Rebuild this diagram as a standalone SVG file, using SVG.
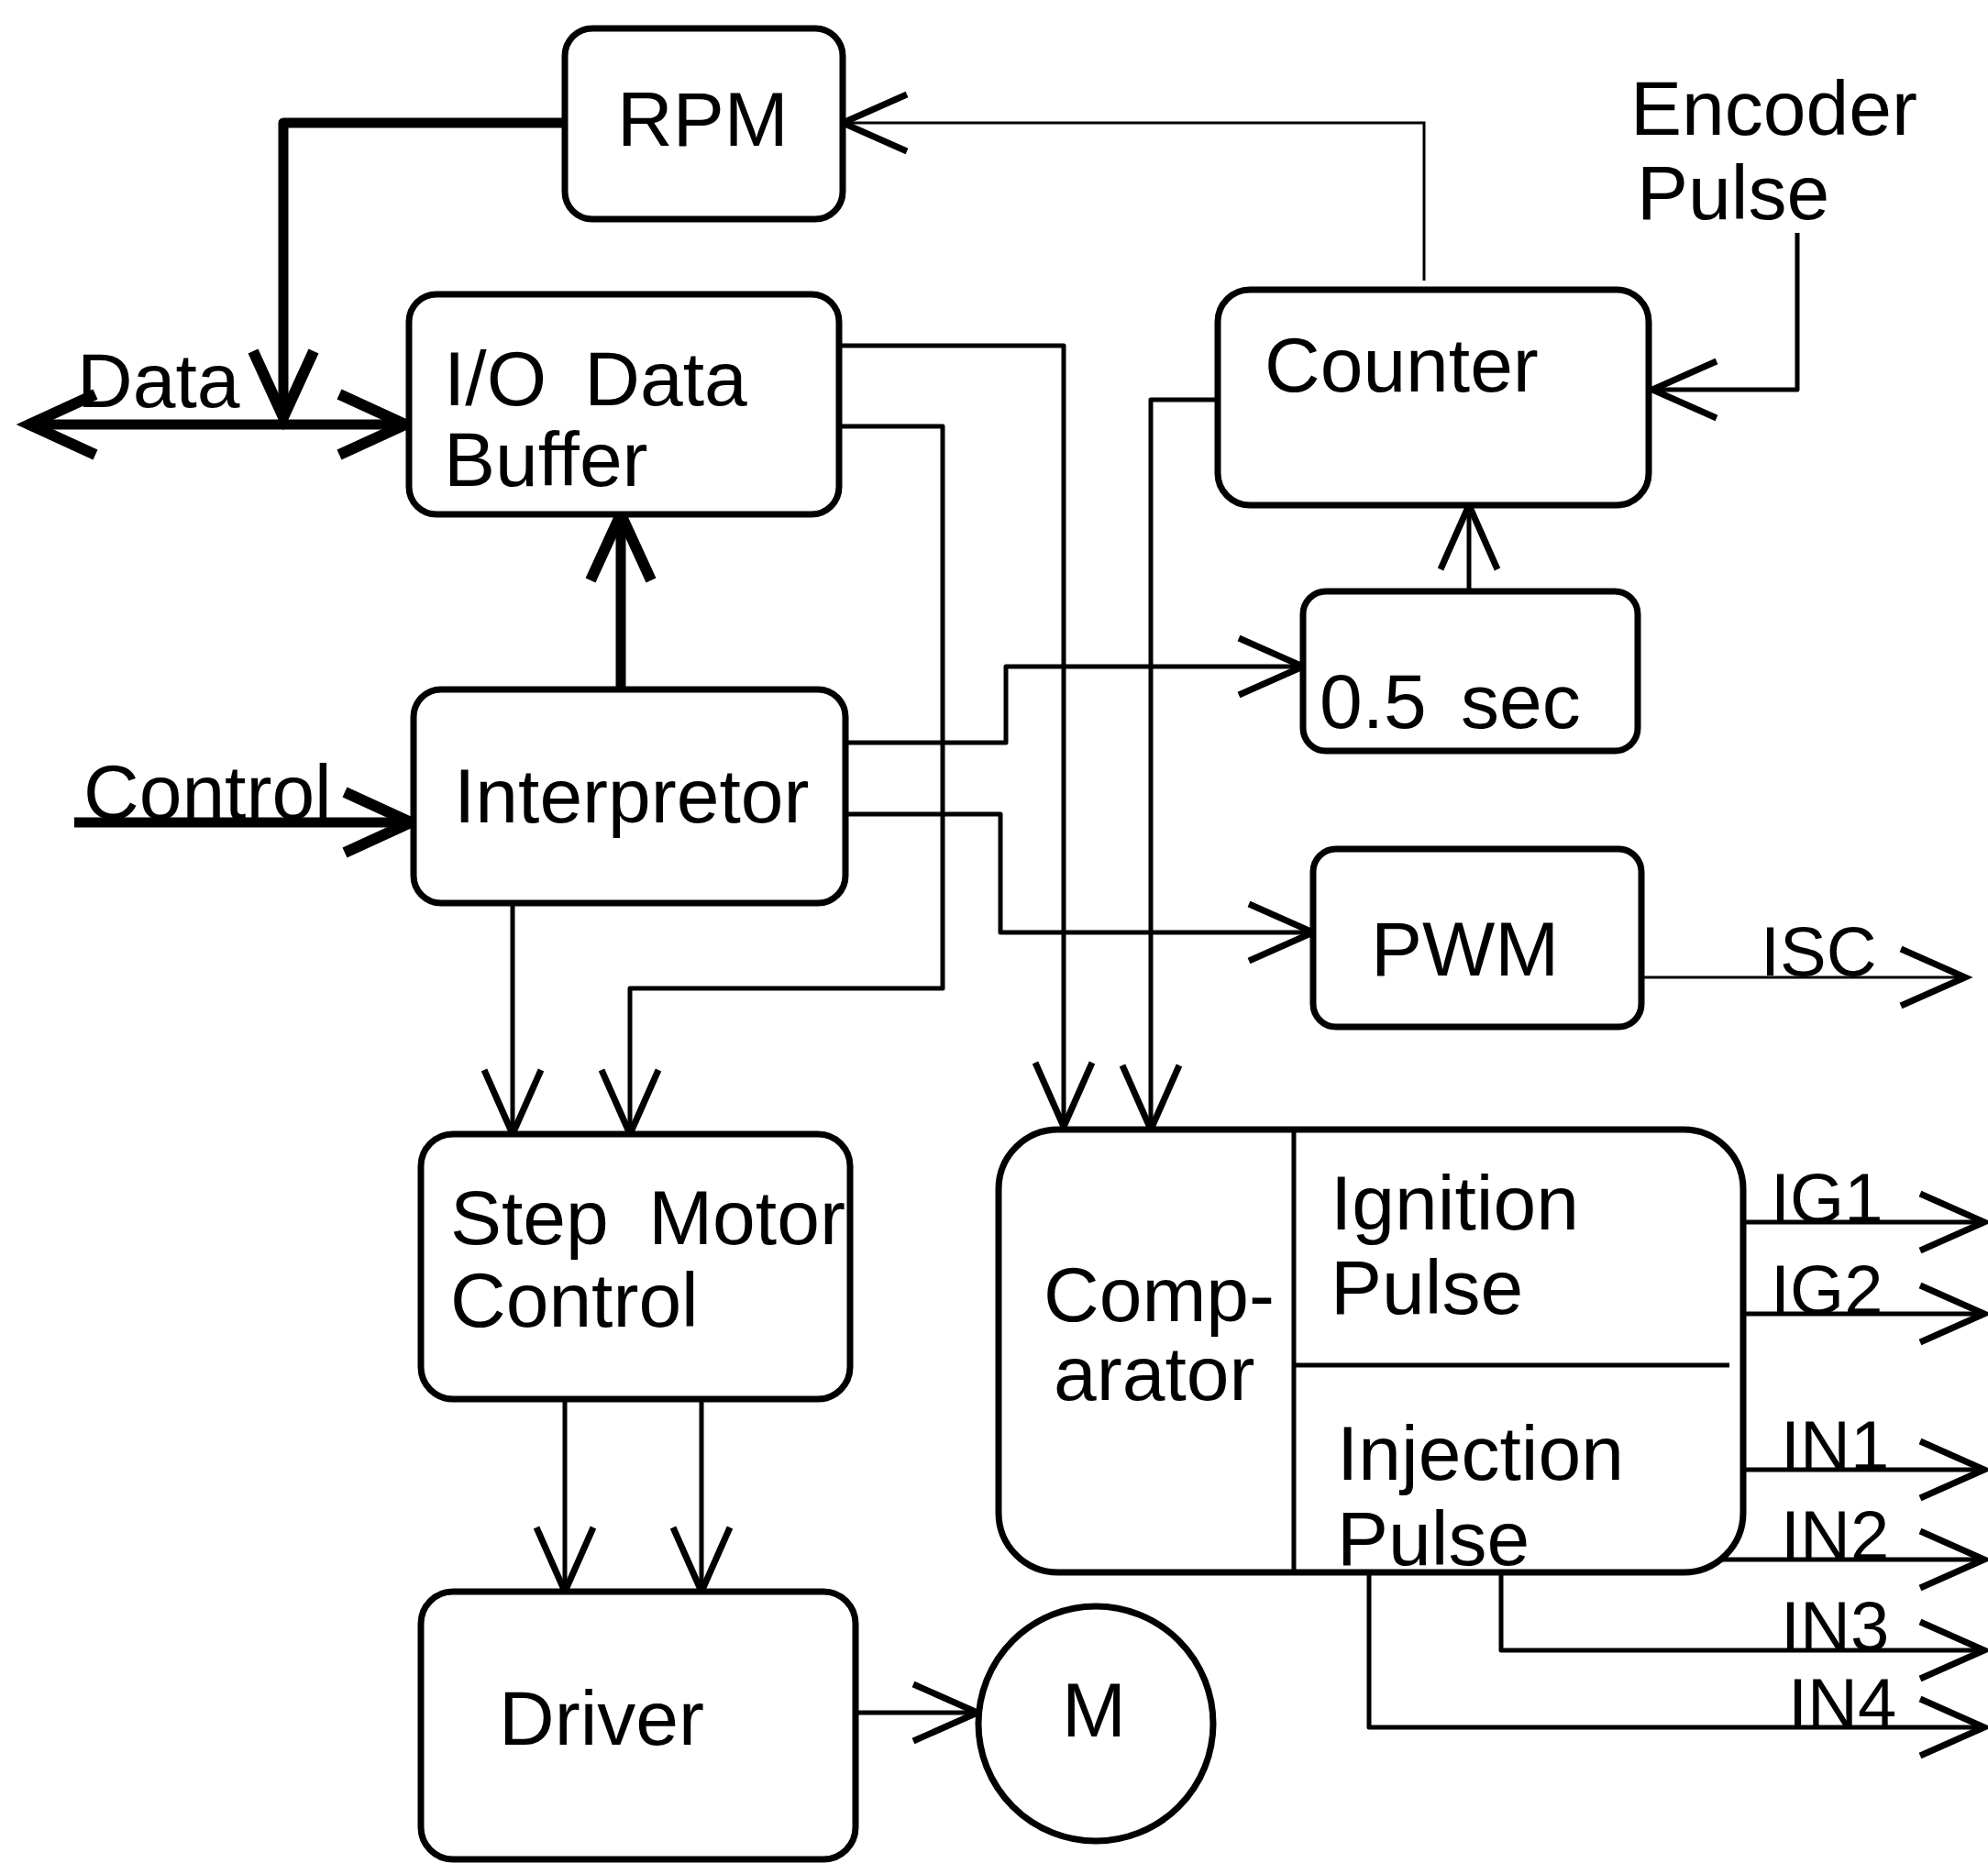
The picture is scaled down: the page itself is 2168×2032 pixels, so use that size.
<svg xmlns="http://www.w3.org/2000/svg" width="2168" height="2032" viewBox="0 0 2168 2032">
<style>
.box{fill:#fff;stroke:#000;stroke-width:7}
.t{font-family:"Liberation Sans",Arial,sans-serif;font-size:84px;fill:#000}
.s{font-family:"Liberation Sans",Arial,sans-serif;font-size:76px;fill:#000}
.c{fill:none;stroke:#000;stroke-width:5;stroke-linejoin:round}
.k{fill:none;stroke:#000;stroke-width:11;stroke-linejoin:round}
.n{fill:none;stroke:#000;stroke-width:3}
</style>
<defs>
<marker id="v" markerUnits="userSpaceOnUse" viewBox="-80 -40 90 80" refX="0" refY="0" markerWidth="90" markerHeight="80" orient="auto" overflow="visible">
<path d="M-70,-31 L0,0 L-70,31" fill="none" stroke="#000" stroke-width="7"/>
</marker>
<marker id="vb" markerUnits="userSpaceOnUse" viewBox="-80 -40 90 80" refX="0" refY="0" markerWidth="90" markerHeight="80" orient="auto-start-reverse" overflow="visible">
<path d="M-72,-33 L0,0 L-72,33" fill="none" stroke="#000" stroke-width="12"/>
</marker>
</defs>
<rect width="2168" height="2032" fill="#fff"/>
<g id="connectors">
<path class="k" d="M616,134 H309 V455" marker-end="url(#vb)"/>
<path class="k" d="M32,463 H442" marker-start="url(#vb)" marker-end="url(#vb)"/>
<path class="n" d="M1553,306 V134 H919" marker-end="url(#v)"/>
<path class="c" d="M1960,254 V425 H1802" marker-end="url(#v)"/>
<path class="c" d="M1602,645 V551" marker-end="url(#v)"/>
<path class="k" d="M677,752 V561" marker-end="url(#vb)"/>
<path class="k" d="M81,897 H448" marker-end="url(#vb)"/>
<path class="c" d="M922,810 H1097 V727 H1421" marker-end="url(#v)"/>
<path class="c" d="M922,888 H1091 V1017 H1432" marker-end="url(#v)"/>
<path class="n" d="M1790,1066 H2143" marker-end="url(#v)"/>
<path class="c" d="M915,377 H1160 V1229" marker-end="url(#v)"/>
<path class="c" d="M915,465 H1028 V1078 H687 V1237" marker-end="url(#v)"/>
<path class="c" d="M1328,436 H1255 V1232" marker-end="url(#v)"/>
<path class="c" d="M559,985 V1237" marker-end="url(#v)"/>
<path class="c" d="M616,1526 V1736" marker-end="url(#v)"/>
<path class="c" d="M765,1526 V1736" marker-end="url(#v)"/>
<path class="c" d="M933,1868 H1066" marker-end="url(#v)"/>
<path class="c" d="M1901,1333 H2164" marker-end="url(#v)"/>
<path class="c" d="M1901,1433 H2164" marker-end="url(#v)"/>
<path class="c" d="M1901,1603 H2164" marker-end="url(#v)"/>
<path class="c" d="M1850,1701 H2164" marker-end="url(#v)"/>
<path class="c" d="M1637,1715 V1800 H2164" marker-end="url(#v)"/>
<path class="c" d="M1493,1715 V1884 H2164" marker-end="url(#v)"/>
</g>
<g id="rpm"><rect class="box" x="616" y="31" width="303" height="208" rx="30"/><text class="t" x="673" y="159">RPM</text></g>
<g id="io-buffer"><rect class="box" x="446" y="321" width="469" height="240" rx="30"/><text class="t" x="484" y="442" word-spacing="18">I/O Data</text><text class="t" x="484" y="530">Buffer</text></g>
<g id="counter"><rect class="box" x="1328" y="316" width="470" height="235" rx="35"/><text class="t" x="1379" y="427">Counter</text></g>
<g id="encoder-label"><text class="t" x="1778" y="147">Encoder</text><text class="t" x="1785" y="239">Pulse</text></g>
<g id="data-label"><text class="t" x="84" y="444">Data</text></g>
<g id="control-label"><text class="t" x="91" y="893">Control</text></g>
<g id="timer"><rect class="box" x="1421" y="645" width="365" height="174" rx="25"/><text class="t" x="1439" y="794" word-spacing="14">0.5 sec</text></g>
<g id="interpretor"><rect class="box" x="451" y="752" width="471" height="233" rx="30"/><text class="t" x="495" y="897">Interpretor</text></g>
<g id="pwm"><rect class="box" x="1432" y="926" width="358" height="194" rx="25"/><text class="t" x="1495" y="1064">PWM</text></g>
<g id="isc-label"><text class="s" x="1920" y="1064">ISC</text></g>
<g id="step-motor"><rect class="box" x="459" y="1237" width="468" height="289" rx="35"/><text class="t" x="491" y="1357" word-spacing="20">Step Motor</text><text class="t" x="491" y="1447">Control</text></g>
<g id="driver"><rect class="box" x="459" y="1736" width="474" height="292" rx="35"/><text class="t" x="544" y="1903">Driver</text></g>
<g id="motor"><circle class="box" cx="1195" cy="1880" r="128"/><text class="t" x="1193" y="1894" text-anchor="middle">M</text></g>
<g id="comparator">
<rect class="box" x="1089" y="1232" width="812" height="483" rx="65"/>
<line class="c" x1="1411" y1="1232" x2="1411" y2="1715"/>
<line class="c" x1="1411" y1="1489" x2="1886" y2="1489"/>
<text class="t" x="1138" y="1441">Comp-</text><text class="t" x="1149" y="1527">arator</text>
<text class="t" x="1451" y="1341">Ignition</text><text class="t" x="1451" y="1433">Pulse</text>
<text class="t" x="1458" y="1614">Injection</text><text class="t" x="1458" y="1707">Pulse</text>
</g>
<g id="output-labels">
<text class="s" x="1931" y="1333">IG1</text>
<text class="s" x="1931" y="1433">IG2</text>
<text class="s" x="1942" y="1603">IN1</text>
<text class="s" x="1942" y="1701">IN2</text>
<text class="s" x="1942" y="1800">IN3</text>
<text class="s" x="1950" y="1884">IN4</text>
</g>
</svg>
